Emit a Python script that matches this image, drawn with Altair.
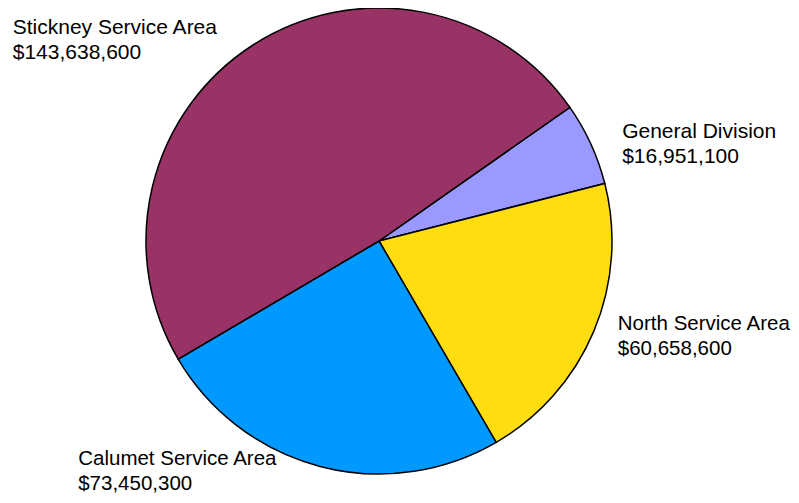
import math
import altair as alt
import pandas as pd

categories = ["General Division", "North Service Area", "Calumet Service Area", "Stickney Service Area"]
values = [16951100, 60658600, 73450300, 143638600]
slice_order = [1, 2, 3, 4]
colors = ["#9999FF", "#FFDD11", "#0099FF", "#993366"]

df = pd.DataFrame({"category": categories, "value": values, "order": slice_order})
df["label"] = [f"{c}\n${v:,}" for c, v in zip(categories, values)]

start = math.radians(55)
theta_scale = alt.Scale(range=[start, start + 2 * math.pi])

base = alt.Chart(df)

arcs = base.mark_arc(radius=233, stroke="black", strokeWidth=1.5).encode(
    theta=alt.Theta("value:Q", stack=True, scale=theta_scale),
    color=alt.Color("category:N", scale=alt.Scale(domain=categories, range=colors), legend=None),
    order=alt.Order("order:Q"),
)

lab = base.transform_joinaggregate(total="sum(value)").transform_window(
    cum="sum(value)", sort=[alt.SortField("order")], frame=[None, 0]
).transform_calculate(
    mid="datum.cum - datum.value / 2",
)

# label placement offsets (style), one per slice in the same order as categories
offsets = [(25, -3, 21), (17.5, -4, 20.5), (-240, -8, 20.5), (-236.5, -5, 21)]

layers = [arcs]
for cat, (dx, dy, fs) in zip(categories, offsets):
    layers.append(
        lab.transform_filter(alt.datum.category == cat).mark_text(
            align="left", baseline="alphabetic", radius=240, fontSize=fs, lineHeight=25,
            font="Liberation Sans", lineBreak="\n", color="black", dx=dx, dy=dy,
        ).encode(
            theta=alt.Theta("mid:Q", stack=None, scale=theta_scale),
            text="label:N",
        )
    )

chart = alt.layer(*layers).properties(
    width=742, height=466,
    padding={"left": 0, "top": 0, "right": 41, "bottom": 21},
    autosize=alt.AutoSizeParams(type="none"),
).configure_view(stroke=None)

chart.save("out.html", embed_options={"renderer": "svg", "actions": False})
